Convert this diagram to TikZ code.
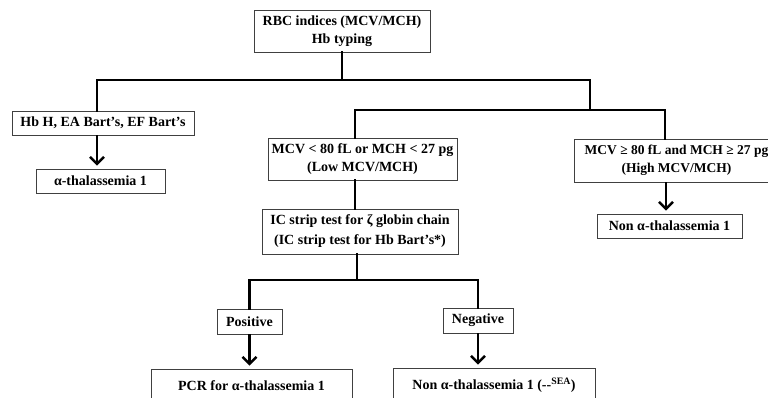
\documentclass[tikz,border=0pt]{standalone}
\usepackage{fontspec}
\setmainfont{Liberation Serif}
\usetikzlibrary{arrows.meta}
\begin{document}
\begin{tikzpicture}[x=1pt,y=-1pt,
  box/.style={draw=black!75, line width=0.8pt, fill=white, inner sep=0pt, align=center,
    font=\fontsize{14}{18}\selectfont\bfseries},
  conn/.style={line width=2.5pt, line cap=rect},
  arr/.style={line width=2.5pt, -{Straight Barb[length=7pt,width=14pt]}, shorten >=3pt}]
\useasboundingbox (0,0) rectangle (768,398);
\clip (0,0) rectangle (768,398);
\fill[white] (0,0) rectangle (768,398);
% nodes
\node[box, minimum width=176pt, minimum height=42pt] (top) at (342,31) {RBC indices (MCV/MCH)\\Hb typing};
\node[box, minimum width=182pt, minimum height=24pt] (hbh) at (103,123) {Hb H, EA Bart’s, EF Bart’s};
\node[box, minimum width=129pt, minimum height=24pt] (a1) at (100.5,181) {α-thalassemia 1};
\node[box, minimum width=189pt, minimum height=42pt] (low) at (362.5,159) {MCV < 80 fL or MCH < 27 pg\\(Low MCV/MCH)};
\node[box, minimum width=205pt, minimum height=43pt, font=\fontsize{13.5}{18}\selectfont\bfseries] (high) at (676.5,160.5) {MCV ≥ 80 fL and MCH ≥ 27 pg\\(High MCV/MCH)};
\node[box, minimum width=145pt, minimum height=24pt] (non1) at (669.5,226) {Non α-thalassemia 1};
\node[box, minimum width=196pt, minimum height=45pt, font=\fontsize{14}{20}\selectfont\bfseries] (ic) at (360,231.5) {IC strip test for ζ globin chain\\(IC strip test for Hb Bart’s*)};
\node[box, minimum width=65pt, minimum height=25pt] (pos) at (249.5,321.5) {Positive};
\node[box, minimum width=70pt, minimum height=25pt] (neg) at (478,320.5) {Negative};
\node[box, minimum width=201pt, minimum height=34pt] (pcr) at (251.5,386) {PCR for α-thalassemia 1};
\node[box, minimum width=202pt, minimum height=34pt] (nonsea) at (494,385) {Non α-thalassemia 1 (-{}-\textsuperscript{SEA})};
% junction coordinates
\coordinate (j0) at (342,80);
\coordinate (jl) at (97,80);
\coordinate (jr) at (590,80);
\coordinate (k0) at (590,110);
\coordinate (kl) at (355,110);
\coordinate (kr) at (665,110);
\coordinate (m0) at (357,280);
\coordinate (ml) at (249.5,280);
\coordinate (mr) at (478,280);
% connectors
\draw[conn] (top.south) -- (j0);
\draw[conn] (jl |- hbh.north) -- (jl) -- (jr) -- (k0);
\draw[conn] (kl |- low.north) -- (kl) -- (kr) -- (kr |- high.north);
\draw[arr] (jl |- hbh.south) -- (jl |- a1.north);
\draw[conn] (kl |- low.south) -- (kl |- ic.north);
\draw[arr] (666,0 |- high.south) -- (666,0 |- non1.north);
\draw[conn] (m0 |- ic.south) -- (m0);
\draw[conn] (pos.north) -- (ml) -- (mr) -- (neg.north);
\draw[arr] (pos.south) -- (pos.south |- pcr.north);
\draw[arr] (neg.south) -- (neg.south |- nonsea.north);
\end{tikzpicture}
\end{document}
